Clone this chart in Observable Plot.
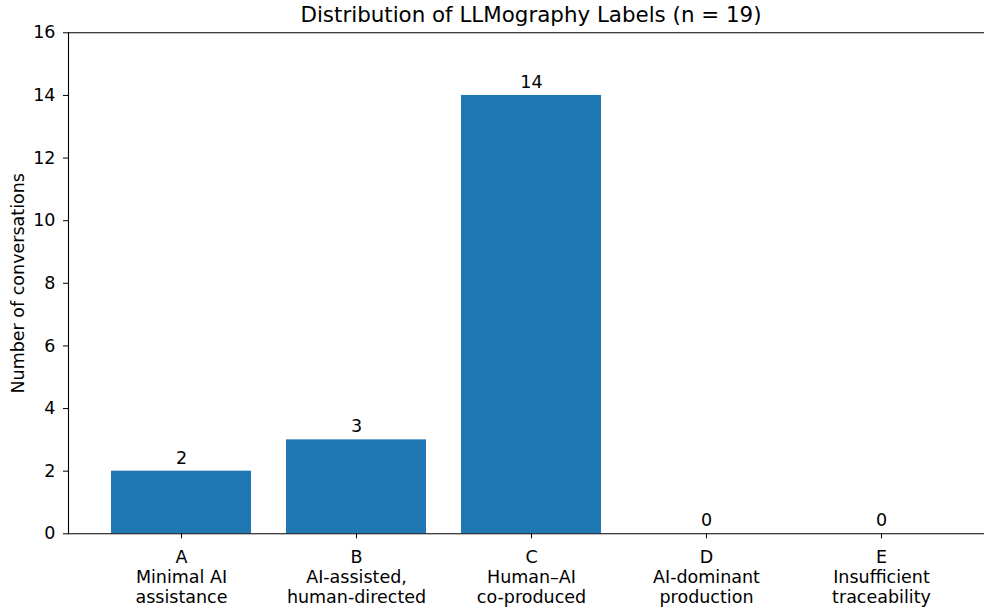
<!DOCTYPE html>
<html>
<head>
<meta charset="utf-8">
<script src="https://cdn.jsdelivr.net/npm/d3@7"></script>
<script src="https://cdn.jsdelivr.net/npm/@observablehq/plot@0.6"></script>
<style>
  html, body { margin: 0; padding: 0; background: #fff; overflow: hidden; }
  #wrap { width: 984px; height: 608px; position: relative; font-family: "DejaVu Sans", sans-serif; }
  #title { height: 27px; box-sizing: border-box; padding-top: 3px; line-height: 24px; font-size: 21.4px; color: #000; white-space: nowrap; position: relative; }
  #title span { position: absolute; left: 531px; transform: translateX(-50%); }
  svg { display: block; }
</style>
</head>
<body>
<div id="wrap">
  <div id="title"><span>Distribution of LLMography Labels (n = 19)</span></div>
  <div id="chart"></div>
</div>
<script>
const codes = ["A", "B", "C", "D", "E"];
const names = ["Minimal AI\nassistance", "AI-assisted,\nhuman-directed", "Human–AI\nco-produced", "AI-dominant\nproduction", "Insufficient\ntraceability"];
const counts = [2, 3, 14, 0, 0];
const yTicks = [0, 2, 4, 6, 8, 10, 12, 14, 16];
const yLabel = "Number of conversations";

const data = codes.map((c, i) => ({code: c, name: names[i], count: counts[i]}));
const tickText = Object.fromEntries(codes.map((c, i) => [c, c + "\n" + names[i]]));

const top0 = 27; // title height
const plot = Plot.plot({
  width: 984,
  height: 608 - top0,
  marginLeft: 68,
  marginRight: 0,
  marginTop: 32.3 - top0,
  marginBottom: 608 - 533.3,
  style: {fontFamily: "DejaVu Sans, sans-serif", fontSize: "17.5px", color: "#000", background: "#fff", overflow: "visible"},
  x: {type: "band", domain: codes, range: [68.3, 994.6], paddingInner: 0.2, paddingOuter: 0.239, align: 0.5},
  y: {domain: [0, 16], range: [533.3 - top0, 32.3 - top0]},
  marks: [
    Plot.barY(data, {x: "code", y: "count", fill: "#1f77b4", insetLeft: 0, insetRight: 0}),
    Plot.text(data, {x: "code", y: "count", text: d => String(d.count), lineAnchor: "bottom", dy: -7.5, fontSize: 17.5, fill: "#000"}),
    Plot.axisY({ticks: yTicks, tickSize: 5, tickPadding: 8, tickFormat: d => String(d), fontSize: 17.5, label: null, stroke: "#000"}),
    Plot.axisX({tickSize: 5, tickPadding: 10, tickFormat: d => tickText[d], lineHeight: 1.15, fontSize: 17.5, label: null, stroke: "#000"}),
    Plot.ruleY([0], {stroke: "#000", strokeWidth: 1.1}),
    Plot.ruleY([16], {stroke: "#000", strokeWidth: 1.1}),
    Plot.frame({anchor: "left", stroke: "#000", strokeWidth: 1.1}),
    Plot.text([yLabel], {frameAnchor: "left", text: d => d, rotate: -90, dx: -50.6, lineAnchor: "middle", textAnchor: "middle", fontSize: 17.5, fill: "#000"})
  ]
});
document.getElementById("chart").appendChild(plot);
</script>
</body>
</html>
